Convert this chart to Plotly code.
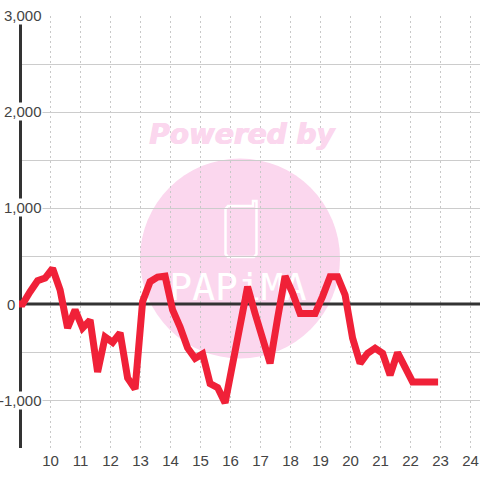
import plotly.graph_objects as go

hours = [8.88, 9.07, 9.32, 9.57, 9.82, 10.07, 10.32, 10.57, 10.82, 11.07, 11.32, 11.57, 11.82, 12.07, 12.32,
         12.57, 12.82, 13.07, 13.32, 13.57, 13.82, 14.07, 14.32, 14.57, 14.82, 15.07, 15.32, 15.57, 15.82,
         16.07, 16.32, 16.57, 16.82, 17.07, 17.32, 17.57, 17.82, 18.07, 18.32, 18.57, 18.82, 19.07, 19.32,
         19.57, 19.82, 20.07, 20.32, 20.57, 20.82, 21.07, 21.32, 21.57, 21.82, 22.07, 22.32, 22.57, 22.92]
values = [0, 0, 128, 243, 270, 370, 146, -250, -62, -250, -167, -708, -344, -400, -300,
          -770, -885, 25, 232, 280, 290, -62, -240, -458, -566, -520, -830, -870, -1030,
          -600, -260, 180, -100, -380, -618, -150, 290, 115, -100, -100, -100, 80, 285,
          285, 95, -355, -618, -513, -460, -513, -740, -507, -653, -812, -812, -812, -812]
x_ticks = list(range(10, 25))
y_labels = {3000: "3,000", 2000: "2,000", 1000: "1,000", 0: "0", -1000: "-1,000"}
y_grid = list(range(-1500, 3001, 500))

W, H = 480, 480
L, R, T, B = 19, 0, 16, 32
PW, PH = W - L - R, H - T - B
X0, X1 = 8.95, 24.317
px = lambda v: (v - L) / PW
py = lambda v: (H - B - v) / PH
dx = lambda v: X0 + px(v) * (X1 - X0)
dy = lambda v: -1500 + py(v) * 4500

PINK = "#fbd7ee"
FONT = "Liberation Sans, Arial, sans-serif"
fig = go.Figure()
# watermark texts sit under the data line
fig.add_trace(go.Scatter(x=[dx(242)], y=[dy(136.5)], mode="text", text=["<b><i>Powered by</i></b>"], hoverinfo="skip",
                         textposition="middle center", cliponaxis=False, showlegend=False,
                         textfont=dict(family="DejaVu Sans", size=28, color=PINK,
                                       shadow=f"0.6px 0 0 {PINK}, -0.6px 0 0 {PINK}")))
fig.add_trace(go.Scatter(x=[dx(238)], y=[dy(290)], mode="text", text=["PAPiMA"], hoverinfo="skip",
                         textposition="middle center", cliponaxis=False, showlegend=False,
                         textfont=dict(family="DejaVu Sans Mono", size=38, color="white")))
fig.add_trace(go.Scatter(x=hours, y=values, mode="lines", cliponaxis=False, hoverinfo="skip",
                         line=dict(color="#f02138", width=7), showlegend=False))

shapes = [
    dict(type="circle", xref="paper", yref="paper", x0=px(140), x1=px(340), y0=py(358.5), y1=py(158.5),
         fillcolor=PINK, line_width=0, layer="below"),
    dict(type="path", xref="paper", yref="paper", layer="below", line=dict(color="white", width=2.5),
         path=f"M {px(253)} {py(206)} L {px(228)} {py(206)} L {px(225.5)} {py(209)} L {px(225.5)} {py(254)} "
              f"L {px(228)} {py(257)} L {px(254)} {py(257)} L {px(256.5)} {py(254)} L {px(256.5)} {py(201)} "
              f"L {px(253)} {py(201)} Z"),
    dict(type="line", xref="x", yref="y", x0=9, x1=24.33, y0=0, y1=0, line=dict(color="#333333", width=3), layer="between"),
    dict(type="line", xref="x", yref="y", x0=9, x1=9, y0=-1500, y1=3000, line=dict(color="#333333", width=3), layer="between"),
]

annotations = []
label_right = {3000: 43, 2000: 43, 1000: 43, 0: 16, -1000: 43}
for v, t in y_labels.items():
    annotations.append(dict(text=t, xref="paper", yref="y", x=px(label_right[v]), y=v, xanchor="right", yanchor="middle",
                            yshift=1 if v > 0 else 0, showarrow=False, bgcolor="white", borderpad=0,
                            font=dict(family=FONT, size=15, color="#444444")))

fig.update_layout(
    width=W, height=H, autosize=False, margin=dict(l=L, r=R, t=T, b=B),
    paper_bgcolor="white", plot_bgcolor="white", showlegend=False,
    shapes=shapes, annotations=annotations,
    xaxis=dict(range=[X0, X1], tickvals=x_ticks, ticktext=[str(t) for t in x_ticks], ticks="", showline=False,
               showgrid=True, gridcolor="#c8c8c8", griddash="2px,3px", gridwidth=1, zeroline=False, ticklabelstandoff=2,
               tickfont=dict(family=FONT, size=15, color="#444444")),
    yaxis=dict(range=[-1500, 3000], tickvals=y_grid, showticklabels=False, ticks="", showline=False,
               showgrid=True, gridcolor="#cccccc", gridwidth=1, zeroline=False),
)
fig.write_html("out.html", config=dict(displayModeBar=False),
               post_script="document.body.style.margin='0';document.documentElement.style.overflow='hidden';")
